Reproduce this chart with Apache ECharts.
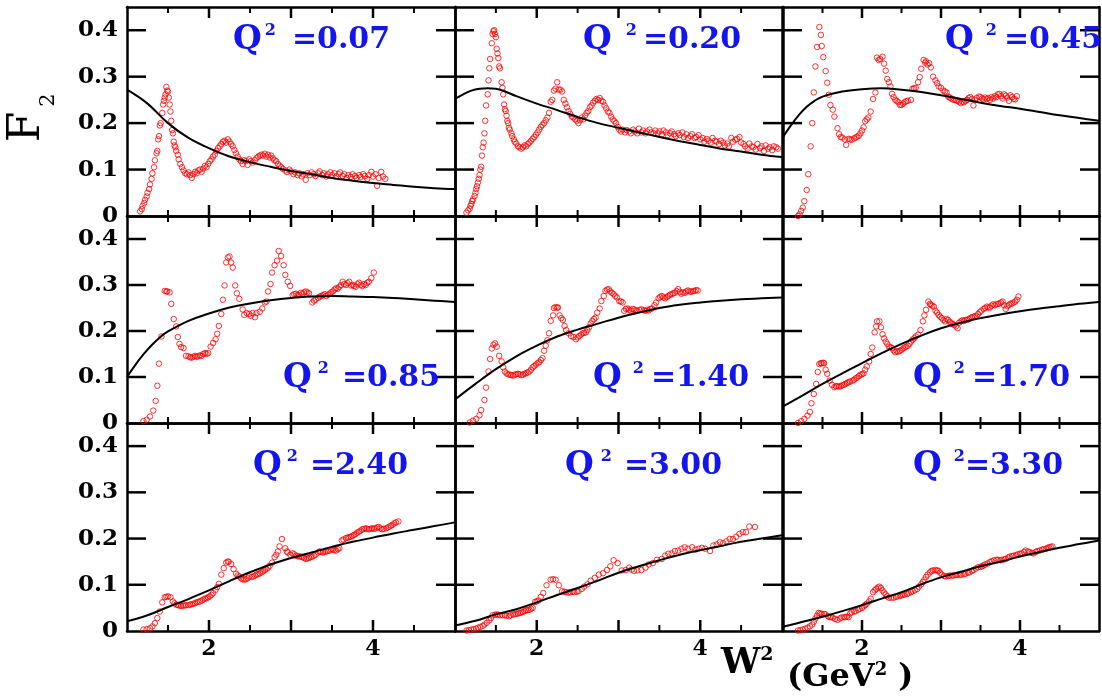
<!DOCTYPE html>
<html>
<head>
<meta charset="utf-8">
<script src="https://cdn.jsdelivr.net/npm/echarts@6/dist/echarts.min.js"></script>
<style>
  html, body { margin: 0; padding: 0; background: #ffffff; }
  #chart { width: 1102px; height: 697px; }
</style>
</head>
<body>
<div id="chart"></div>
<script>
// Q^2 value of each panel (GeV^2), row by row
const q2Values = ['0.07', '0.20', '0.45', '0.85', '1.40', '1.70', '2.40', '3.00', '3.30'];

// Tick labels and tick positions
const xTickLabels = ['2', '4'];
const yTickLabels = ['0', '0.1', '0.2', '0.3', '0.4'];
const xTickValues = [1.5, 2, 2.5, 3, 3.5, 4, 4.5];
const yTickValues = [0.1, 0.2, 0.3, 0.4];

// Measured F2 points [W^2, F2]
const meas007 = [
  [1.16,0.010],[1.18,0.015],[1.19,0.022],[1.21,0.028],[1.22,0.035],[1.24,0.042],[1.25,0.050],[1.27,0.058],
  [1.28,0.068],[1.30,0.080],[1.31,0.092],[1.33,0.105],[1.34,0.120],[1.36,0.135],[1.37,0.140],[1.38,0.165],
  [1.39,0.172],[1.40,0.195],[1.41,0.200],[1.43,0.222],[1.44,0.240],[1.45,0.248],[1.46,0.255],[1.47,0.262],
  [1.48,0.278],[1.49,0.270],[1.50,0.268],[1.51,0.255],[1.52,0.240],[1.53,0.225],[1.54,0.205],[1.55,0.185],
  [1.56,0.178],[1.57,0.160],[1.58,0.152],[1.59,0.148],[1.60,0.140],[1.62,0.132],[1.63,0.122],[1.65,0.112],
  [1.67,0.105],[1.69,0.098],[1.71,0.092],[1.73,0.090],[1.75,0.094],[1.77,0.088],[1.79,0.082],[1.81,0.090],
  [1.83,0.095],[1.85,0.092],[1.87,0.098],[1.89,0.100],[1.91,0.095],[1.93,0.102],[1.95,0.108],[1.97,0.105],
  [1.99,0.112],[2.01,0.118],[2.03,0.122],[2.05,0.128],[2.07,0.132],[2.09,0.140],[2.11,0.146],[2.13,0.150],
  [2.15,0.155],[2.17,0.160],[2.19,0.162],[2.21,0.158],[2.23,0.165],[2.25,0.160],[2.27,0.155],[2.29,0.150],
  [2.31,0.142],[2.33,0.135],[2.35,0.128],[2.37,0.122],[2.39,0.118],[2.41,0.112],[2.43,0.120],[2.45,0.118],
  [2.47,0.110],[2.49,0.122],[2.51,0.118],[2.53,0.115],[2.56,0.120],[2.58,0.125],[2.60,0.128],[2.62,0.130],
  [2.64,0.132],[2.66,0.130],[2.68,0.134],[2.70,0.128],[2.72,0.132],[2.74,0.126],[2.76,0.130],[2.78,0.124],
  [2.80,0.120],[2.82,0.118],[2.84,0.112],[2.86,0.108],[2.88,0.105],[2.90,0.102],[2.93,0.098],[2.95,0.095],
  [2.98,0.100],[3.00,0.096],[3.03,0.090],[3.05,0.094],[3.08,0.088],[3.10,0.092],[3.13,0.085],[3.15,0.090],
  [3.18,0.078],[3.20,0.092],[3.23,0.088],[3.25,0.094],[3.28,0.090],[3.30,0.086],[3.33,0.092],[3.35,0.096],
  [3.38,0.088],[3.40,0.092],[3.43,0.085],[3.45,0.090],[3.48,0.094],[3.50,0.088],[3.53,0.092],[3.55,0.085],
  [3.58,0.090],[3.60,0.094],[3.63,0.086],[3.65,0.090],[3.68,0.082],[3.70,0.088],[3.73,0.084],[3.75,0.090],
  [3.78,0.086],[3.80,0.082],[3.83,0.088],[3.85,0.084],[3.88,0.090],[3.90,0.086],[3.93,0.080],[3.95,0.088],
  [3.98,0.095],[4.00,0.085],[4.03,0.090],[4.05,0.065],[4.07,0.082],[4.10,0.095],[4.12,0.085],[4.15,0.080]
];
const meas020 = [
  [1.14,0.007],[1.16,0.012],[1.18,0.016],[1.19,0.022],[1.20,0.026],[1.21,0.032],[1.22,0.036],[1.24,0.043],
  [1.25,0.050],[1.26,0.058],[1.27,0.064],[1.28,0.072],[1.29,0.080],[1.30,0.088],[1.31,0.100],[1.32,0.106],
  [1.33,0.130],[1.34,0.148],[1.35,0.158],[1.36,0.178],[1.37,0.205],[1.38,0.238],[1.40,0.262],[1.41,0.292],
  [1.42,0.318],[1.43,0.338],[1.45,0.372],[1.46,0.392],[1.47,0.398],[1.48,0.400],[1.49,0.392],[1.50,0.385],
  [1.51,0.360],[1.52,0.350],[1.53,0.340],[1.54,0.322],[1.55,0.318],[1.57,0.288],[1.58,0.276],[1.59,0.262],
  [1.60,0.240],[1.61,0.230],[1.62,0.226],[1.63,0.216],[1.64,0.205],[1.65,0.200],[1.66,0.190],[1.67,0.186],
  [1.69,0.178],[1.70,0.172],[1.72,0.165],[1.73,0.160],[1.75,0.156],[1.77,0.150],[1.79,0.148],[1.81,0.145],
  [1.83,0.148],[1.85,0.152],[1.87,0.150],[1.89,0.155],[1.91,0.158],[1.93,0.162],[1.95,0.166],[1.97,0.170],
  [1.99,0.175],[2.01,0.180],[2.03,0.186],[2.05,0.192],[2.07,0.196],[2.09,0.200],[2.11,0.206],[2.13,0.212],
  [2.15,0.222],[2.17,0.246],[2.19,0.250],[2.21,0.270],[2.23,0.274],[2.25,0.288],[2.27,0.272],[2.29,0.272],
  [2.31,0.268],[2.33,0.250],[2.35,0.242],[2.37,0.234],[2.39,0.226],[2.41,0.220],[2.43,0.214],[2.45,0.212],
  [2.47,0.208],[2.49,0.205],[2.51,0.200],[2.53,0.206],[2.55,0.212],[2.57,0.208],[2.59,0.216],[2.61,0.222],
  [2.63,0.226],[2.65,0.234],[2.67,0.238],[2.69,0.244],[2.71,0.248],[2.73,0.252],[2.75,0.250],[2.77,0.254],
  [2.79,0.248],[2.81,0.246],[2.83,0.238],[2.85,0.232],[2.87,0.225],[2.89,0.222],[2.91,0.214],[2.93,0.208],
  [2.95,0.204],[2.97,0.200],[2.99,0.192],[3.01,0.186],[3.03,0.182],[3.05,0.186],[3.08,0.180],[3.10,0.185],
  [3.13,0.182],[3.15,0.178],[3.18,0.186],[3.20,0.182],[3.23,0.178],[3.25,0.188],[3.28,0.180],[3.30,0.184],
  [3.33,0.178],[3.35,0.182],[3.38,0.186],[3.40,0.180],[3.43,0.178],[3.45,0.184],[3.48,0.178],[3.50,0.182],
  [3.53,0.176],[3.55,0.184],[3.58,0.180],[3.60,0.174],[3.63,0.178],[3.65,0.182],[3.68,0.176],[3.70,0.172],
  [3.73,0.178],[3.75,0.174],[3.78,0.180],[3.80,0.170],[3.83,0.176],[3.85,0.168],[3.88,0.172],[3.90,0.176],
  [3.93,0.168],[3.95,0.170],[3.98,0.174],[4.00,0.165],[4.03,0.168],[4.05,0.160],[4.08,0.166],[4.10,0.162],
  [4.13,0.158],[4.15,0.168],[4.18,0.162],[4.20,0.160],[4.23,0.155],[4.25,0.162],[4.28,0.158],[4.30,0.152],
  [4.33,0.156],[4.35,0.150],[4.38,0.168],[4.40,0.160],[4.43,0.164],[4.45,0.166],[4.48,0.170],[4.50,0.158],
  [4.53,0.155],[4.55,0.150],[4.58,0.145],[4.60,0.156],[4.63,0.150],[4.65,0.148],[4.68,0.143],[4.70,0.155],
  [4.73,0.146],[4.75,0.150],[4.78,0.140],[4.80,0.152],[4.83,0.145],[4.85,0.148],[4.88,0.142],[4.90,0.150],
  [4.93,0.148],[4.95,0.145]
];
const meas045 = [
  [1.19,0.000],[1.21,0.004],[1.23,0.011],[1.25,0.018],[1.27,0.032],[1.30,0.056],[1.32,0.090],[1.35,0.150],
  [1.37,0.200],[1.39,0.266],[1.41,0.322],[1.43,0.364],[1.46,0.407],[1.48,0.390],[1.49,0.366],[1.51,0.342],
  [1.54,0.312],[1.56,0.287],[1.58,0.261],[1.60,0.239],[1.63,0.229],[1.65,0.214],[1.69,0.189],[1.71,0.176],
  [1.73,0.170],[1.75,0.169],[1.78,0.165],[1.80,0.153],[1.83,0.166],[1.85,0.165],[1.87,0.164],[1.90,0.167],
  [1.92,0.169],[1.94,0.171],[1.96,0.173],[1.98,0.178],[2.00,0.184],[2.02,0.191],[2.04,0.204],[2.06,0.208],
  [2.08,0.212],[2.11,0.225],[2.14,0.252],[2.17,0.266],[2.19,0.341],[2.21,0.336],[2.23,0.338],[2.26,0.343],
  [2.28,0.328],[2.30,0.313],[2.32,0.295],[2.34,0.288],[2.36,0.279],[2.38,0.263],[2.40,0.256],[2.42,0.250],
  [2.44,0.248],[2.46,0.245],[2.48,0.239],[2.50,0.239],[2.52,0.242],[2.54,0.245],[2.56,0.247],[2.58,0.248],
  [2.62,0.250],[2.64,0.274],[2.66,0.275],[2.68,0.276],[2.71,0.288],[2.73,0.299],[2.75,0.317],[2.78,0.336],
  [2.80,0.330],[2.81,0.333],[2.83,0.326],[2.85,0.329],[2.87,0.320],[2.90,0.300],[2.93,0.292],[2.95,0.286],
  [2.97,0.279],[3.00,0.276],[3.03,0.270],[3.05,0.268],[3.07,0.266],[3.09,0.257],[3.11,0.255],[3.13,0.253],
  [3.15,0.251],[3.17,0.250],[3.19,0.249],[3.21,0.248],[3.23,0.246],[3.25,0.243],[3.27,0.246],[3.29,0.245],
  [3.31,0.248],[3.33,0.250],[3.35,0.254],[3.37,0.256],[3.39,0.252],[3.41,0.238],[3.43,0.250],[3.45,0.254],
  [3.48,0.257],[3.50,0.256],[3.52,0.253],[3.54,0.251],[3.56,0.255],[3.58,0.252],[3.60,0.254],[3.62,0.250],
  [3.64,0.256],[3.66,0.253],[3.68,0.258],[3.70,0.256],[3.72,0.262],[3.74,0.263],[3.76,0.258],[3.78,0.253],
  [3.80,0.262],[3.82,0.259],[3.84,0.255],[3.86,0.248],[3.88,0.260],[3.90,0.256],[3.92,0.252],[3.94,0.251],
  [3.96,0.258]
];
const meas085 = [
  [1.20,0.004],[1.24,0.007],[1.28,0.014],[1.32,0.027],[1.35,0.048],[1.37,0.081],[1.39,0.129],[1.42,0.188],
  [1.46,0.287],[1.48,0.286],[1.49,0.286],[1.52,0.284],[1.54,0.259],[1.57,0.226],[1.60,0.210],[1.62,0.187],
  [1.64,0.172],[1.66,0.165],[1.69,0.163],[1.72,0.146],[1.75,0.145],[1.77,0.143],[1.79,0.142],[1.81,0.144],
  [1.83,0.146],[1.85,0.144],[1.87,0.145],[1.89,0.147],[1.91,0.146],[1.93,0.150],[1.95,0.152],[1.97,0.150],
  [1.99,0.152],[2.02,0.166],[2.05,0.174],[2.08,0.182],[2.10,0.194],[2.12,0.211],[2.15,0.237],[2.17,0.268],
  [2.19,0.299],[2.21,0.349],[2.23,0.360],[2.25,0.362],[2.27,0.349],[2.29,0.338],[2.32,0.299],[2.34,0.282],
  [2.37,0.270],[2.41,0.247],[2.43,0.235],[2.46,0.239],[2.49,0.237],[2.51,0.233],[2.53,0.239],[2.56,0.230],
  [2.58,0.239],[2.62,0.242],[2.65,0.249],[2.68,0.262],[2.70,0.264],[2.72,0.286],[2.75,0.302],[2.77,0.327],
  [2.80,0.343],[2.83,0.353],[2.85,0.374],[2.88,0.363],[2.91,0.343],[2.93,0.322],[2.96,0.307],[2.99,0.298],
  [3.02,0.278],[3.04,0.280],[3.06,0.281],[3.08,0.278],[3.10,0.278],[3.12,0.283],[3.14,0.281],[3.16,0.284],
  [3.18,0.286],[3.20,0.284],[3.22,0.282],[3.26,0.262],[3.28,0.266],[3.30,0.268],[3.33,0.272],[3.35,0.275],
  [3.37,0.276],[3.39,0.278],[3.41,0.280],[3.43,0.276],[3.45,0.279],[3.47,0.281],[3.49,0.284],[3.51,0.286],
  [3.53,0.290],[3.55,0.293],[3.57,0.292],[3.59,0.296],[3.61,0.300],[3.63,0.307],[3.65,0.302],[3.67,0.300],
  [3.69,0.304],[3.71,0.307],[3.73,0.299],[3.75,0.300],[3.77,0.298],[3.79,0.296],[3.81,0.302],[3.83,0.305],
  [3.85,0.300],[3.87,0.298],[3.89,0.302],[3.91,0.300],[3.93,0.305],[3.95,0.307],[3.98,0.315],[4.01,0.327]
];
const meas140 = [
  [1.18,0.001],[1.22,0.005],[1.26,0.009],[1.30,0.017],[1.32,0.028],[1.36,0.050],[1.38,0.077],[1.41,0.112],
  [1.43,0.139],[1.45,0.162],[1.47,0.170],[1.49,0.173],[1.51,0.166],[1.54,0.146],[1.57,0.134],[1.59,0.121],
  [1.61,0.112],[1.63,0.108],[1.65,0.106],[1.67,0.105],[1.69,0.104],[1.71,0.103],[1.73,0.105],[1.75,0.106],
  [1.77,0.107],[1.79,0.106],[1.81,0.104],[1.83,0.105],[1.85,0.107],[1.87,0.108],[1.89,0.110],[1.91,0.112],
  [1.93,0.116],[1.95,0.121],[1.97,0.124],[1.99,0.127],[2.01,0.130],[2.03,0.132],[2.05,0.137],[2.07,0.141],
  [2.09,0.157],[2.11,0.168],[2.13,0.180],[2.15,0.195],[2.17,0.222],[2.20,0.234],[2.21,0.250],[2.23,0.252],
  [2.25,0.251],[2.26,0.251],[2.28,0.234],[2.30,0.228],[2.32,0.224],[2.34,0.211],[2.36,0.202],[2.39,0.195],
  [2.42,0.189],[2.45,0.187],[2.48,0.182],[2.50,0.186],[2.52,0.189],[2.54,0.192],[2.56,0.195],[2.58,0.196],
  [2.60,0.197],[2.62,0.202],[2.64,0.208],[2.66,0.216],[2.68,0.222],[2.70,0.226],[2.72,0.229],[2.74,0.240],
  [2.77,0.249],[2.79,0.265],[2.82,0.276],[2.84,0.287],[2.86,0.290],[2.88,0.291],[2.90,0.286],[2.92,0.283],
  [2.94,0.280],[2.96,0.276],[2.98,0.273],[3.01,0.265],[3.03,0.264],[3.05,0.262],[3.07,0.244],[3.09,0.248],
  [3.11,0.249],[3.13,0.246],[3.15,0.244],[3.17,0.248],[3.19,0.247],[3.21,0.245],[3.23,0.244],[3.26,0.246],
  [3.28,0.247],[3.31,0.245],[3.33,0.244],[3.35,0.246],[3.37,0.245],[3.39,0.248],[3.41,0.249],[3.44,0.256],
  [3.46,0.262],[3.49,0.271],[3.51,0.274],[3.53,0.276],[3.55,0.273],[3.57,0.271],[3.59,0.274],[3.61,0.276],
  [3.63,0.279],[3.65,0.280],[3.67,0.282],[3.69,0.283],[3.71,0.287],[3.73,0.291],[3.75,0.285],[3.77,0.281],
  [3.79,0.284],[3.81,0.283],[3.83,0.286],[3.85,0.288],[3.87,0.286],[3.89,0.285],[3.91,0.287],[3.93,0.287],
  [3.95,0.289],[3.97,0.288]
];
const meas170 = [
  [1.19,0.000],[1.23,0.004],[1.27,0.009],[1.31,0.016],[1.34,0.024],[1.36,0.043],[1.39,0.063],[1.42,0.085],
  [1.44,0.111],[1.46,0.128],[1.48,0.130],[1.49,0.130],[1.51,0.131],[1.52,0.130],[1.54,0.116],[1.56,0.107],
  [1.59,0.092],[1.62,0.083],[1.65,0.078],[1.67,0.080],[1.69,0.080],[1.71,0.079],[1.73,0.080],[1.75,0.082],
  [1.77,0.083],[1.79,0.085],[1.81,0.087],[1.83,0.089],[1.85,0.090],[1.88,0.092],[1.90,0.094],[1.92,0.097],
  [1.94,0.099],[1.96,0.102],[1.98,0.105],[2.00,0.106],[2.02,0.108],[2.04,0.116],[2.06,0.123],[2.09,0.134],
  [2.11,0.150],[2.13,0.164],[2.16,0.197],[2.18,0.210],[2.19,0.221],[2.22,0.221],[2.24,0.208],[2.26,0.193],
  [2.28,0.184],[2.30,0.177],[2.32,0.172],[2.34,0.166],[2.36,0.165],[2.38,0.163],[2.40,0.158],[2.42,0.154],
  [2.44,0.156],[2.46,0.155],[2.48,0.157],[2.50,0.159],[2.52,0.162],[2.54,0.164],[2.56,0.166],[2.58,0.168],
  [2.60,0.172],[2.62,0.177],[2.64,0.181],[2.66,0.184],[2.68,0.188],[2.71,0.192],[2.74,0.202],[2.77,0.221],
  [2.79,0.234],[2.81,0.246],[2.84,0.264],[2.86,0.259],[2.87,0.257],[2.89,0.255],[2.91,0.253],[2.93,0.244],
  [2.95,0.240],[2.97,0.235],[2.99,0.231],[3.01,0.228],[3.03,0.224],[3.05,0.221],[3.07,0.226],[3.09,0.224],
  [3.11,0.220],[3.13,0.217],[3.15,0.215],[3.17,0.213],[3.19,0.210],[3.21,0.206],[3.23,0.218],[3.25,0.221],
  [3.27,0.223],[3.29,0.222],[3.31,0.224],[3.33,0.224],[3.35,0.226],[3.37,0.228],[3.39,0.230],[3.41,0.231],
  [3.43,0.232],[3.45,0.233],[3.47,0.237],[3.49,0.241],[3.51,0.244],[3.54,0.248],[3.56,0.250],[3.58,0.253],
  [3.60,0.251],[3.62,0.251],[3.64,0.255],[3.66,0.258],[3.68,0.256],[3.70,0.258],[3.72,0.259],[3.74,0.260],
  [3.76,0.262],[3.78,0.264],[3.80,0.256],[3.82,0.248],[3.84,0.254],[3.86,0.257],[3.88,0.259],[3.90,0.260],
  [3.92,0.262],[3.94,0.264],[3.96,0.268],[3.98,0.275]
];
const meas240 = [
  [1.20,0.003],[1.24,0.004],[1.28,0.006],[1.31,0.010],[1.34,0.017],[1.37,0.028],[1.40,0.042],[1.43,0.062],
  [1.46,0.073],[1.48,0.074],[1.50,0.075],[1.53,0.073],[1.56,0.064],[1.58,0.060],[1.60,0.057],[1.62,0.056],
  [1.64,0.055],[1.66,0.054],[1.68,0.055],[1.70,0.055],[1.72,0.056],[1.75,0.056],[1.77,0.057],[1.79,0.058],
  [1.81,0.059],[1.83,0.060],[1.85,0.062],[1.87,0.063],[1.89,0.064],[1.91,0.066],[1.93,0.068],[1.95,0.070],
  [1.97,0.071],[1.99,0.073],[2.01,0.075],[2.03,0.078],[2.05,0.082],[2.08,0.089],[2.10,0.095],[2.12,0.102],
  [2.15,0.122],[2.18,0.136],[2.21,0.148],[2.23,0.150],[2.24,0.150],[2.27,0.145],[2.30,0.134],[2.33,0.124],
  [2.35,0.120],[2.37,0.118],[2.39,0.114],[2.41,0.112],[2.43,0.111],[2.45,0.112],[2.47,0.114],[2.49,0.118],
  [2.52,0.117],[2.54,0.118],[2.56,0.120],[2.58,0.122],[2.60,0.123],[2.62,0.125],[2.64,0.127],[2.66,0.129],
  [2.68,0.132],[2.70,0.134],[2.72,0.137],[2.74,0.141],[2.77,0.148],[2.80,0.160],[2.82,0.165],[2.84,0.172],
  [2.86,0.183],[2.89,0.199],[2.93,0.179],[2.95,0.172],[2.96,0.170],[2.99,0.165],[3.02,0.168],[3.04,0.166],
  [3.06,0.163],[3.08,0.162],[3.10,0.161],[3.12,0.161],[3.14,0.160],[3.16,0.158],[3.18,0.156],[3.20,0.157],
  [3.22,0.158],[3.24,0.160],[3.26,0.161],[3.28,0.163],[3.30,0.165],[3.33,0.170],[3.35,0.172],[3.37,0.171],
  [3.39,0.170],[3.41,0.171],[3.43,0.172],[3.45,0.173],[3.47,0.174],[3.49,0.176],[3.51,0.177],[3.53,0.175],
  [3.55,0.174],[3.57,0.177],[3.59,0.179],[3.62,0.196],[3.64,0.198],[3.67,0.201],[3.69,0.202],[3.71,0.203],
  [3.73,0.204],[3.75,0.206],[3.77,0.208],[3.79,0.210],[3.81,0.213],[3.83,0.215],[3.85,0.217],[3.87,0.220],
  [3.89,0.221],[3.91,0.222],[3.93,0.221],[3.95,0.220],[3.97,0.221],[3.99,0.222],[4.01,0.221],[4.03,0.222],
  [4.05,0.224],[4.07,0.225],[4.09,0.222],[4.11,0.220],[4.13,0.221],[4.16,0.222],[4.18,0.224],[4.20,0.226],
  [4.22,0.228],[4.24,0.230],[4.26,0.233],[4.28,0.235],[4.31,0.237]
];
const meas300 = [
  [1.14,0.001],[1.17,0.002],[1.20,0.003],[1.23,0.004],[1.26,0.005],[1.28,0.007],[1.31,0.009],[1.34,0.011],
  [1.36,0.014],[1.39,0.018],[1.42,0.023],[1.44,0.028],[1.46,0.034],[1.49,0.035],[1.51,0.036],[1.53,0.035],
  [1.55,0.034],[1.58,0.034],[1.61,0.034],[1.63,0.033],[1.66,0.032],[1.68,0.034],[1.71,0.036],[1.73,0.036],
  [1.75,0.037],[1.77,0.038],[1.79,0.039],[1.81,0.040],[1.83,0.041],[1.85,0.043],[1.87,0.045],[1.89,0.045],
  [1.91,0.046],[1.93,0.048],[1.95,0.050],[1.98,0.063],[2.00,0.064],[2.02,0.066],[2.05,0.074],[2.08,0.082],
  [2.12,0.099],[2.17,0.111],[2.20,0.112],[2.23,0.111],[2.27,0.099],[2.31,0.086],[2.34,0.085],[2.36,0.084],
  [2.39,0.083],[2.41,0.084],[2.44,0.085],[2.46,0.084],[2.49,0.085],[2.51,0.086],[2.55,0.091],[2.58,0.096],
  [2.62,0.101],[2.66,0.109],[2.71,0.115],[2.76,0.122],[2.81,0.125],[2.86,0.132],[2.90,0.140],[2.94,0.153],
  [2.99,0.147],[3.04,0.131],[3.09,0.132],[3.13,0.137],[3.16,0.133],[3.19,0.130],[3.23,0.131],[3.28,0.132],
  [3.33,0.137],[3.37,0.144],[3.42,0.147],[3.47,0.154],[3.53,0.156],[3.57,0.163],[3.61,0.167],[3.65,0.168],
  [3.69,0.173],[3.73,0.174],[3.77,0.178],[3.81,0.181],[3.85,0.178],[3.90,0.181],[3.94,0.176],[3.98,0.178],
  [4.02,0.180],[4.06,0.178],[4.12,0.173],[4.16,0.185],[4.20,0.187],[4.24,0.192],[4.28,0.190],[4.32,0.194],
  [4.36,0.199],[4.40,0.199],[4.44,0.204],[4.48,0.210],[4.52,0.214],[4.56,0.214],[4.60,0.226],[4.67,0.225]
];
const meas330 = [
  [1.19,0.001],[1.22,0.002],[1.25,0.003],[1.28,0.005],[1.31,0.007],[1.34,0.010],[1.37,0.014],[1.39,0.020],
  [1.41,0.027],[1.43,0.033],[1.45,0.039],[1.47,0.038],[1.49,0.037],[1.52,0.037],[1.54,0.036],[1.57,0.032],
  [1.59,0.030],[1.61,0.030],[1.63,0.029],[1.66,0.026],[1.69,0.024],[1.72,0.027],[1.74,0.029],[1.77,0.030],
  [1.79,0.030],[1.81,0.031],[1.83,0.030],[1.85,0.038],[1.87,0.041],[1.90,0.042],[1.92,0.043],[1.95,0.046],
  [1.97,0.048],[2.00,0.050],[2.02,0.053],[2.04,0.056],[2.06,0.059],[2.09,0.064],[2.11,0.070],[2.14,0.084],
  [2.16,0.088],[2.18,0.091],[2.20,0.094],[2.22,0.096],[2.24,0.093],[2.26,0.088],[2.28,0.083],[2.30,0.079],
  [2.32,0.075],[2.34,0.072],[2.37,0.072],[2.40,0.072],[2.43,0.074],[2.45,0.075],[2.48,0.076],[2.50,0.077],
  [2.52,0.078],[2.54,0.079],[2.57,0.080],[2.59,0.082],[2.62,0.084],[2.64,0.086],[2.67,0.088],[2.70,0.091],
  [2.72,0.096],[2.75,0.101],[2.77,0.106],[2.79,0.111],[2.81,0.117],[2.83,0.122],[2.86,0.127],[2.88,0.130],
  [2.90,0.131],[2.93,0.132],[2.95,0.131],[2.97,0.130],[2.99,0.126],[3.01,0.122],[3.04,0.119],[3.06,0.118],
  [3.09,0.119],[3.11,0.120],[3.14,0.120],[3.16,0.120],[3.19,0.121],[3.21,0.122],[3.24,0.121],[3.26,0.122],
  [3.29,0.123],[3.31,0.124],[3.34,0.126],[3.36,0.127],[3.39,0.130],[3.41,0.132],[3.44,0.135],[3.47,0.138],
  [3.50,0.139],[3.52,0.140],[3.54,0.142],[3.56,0.144],[3.59,0.146],[3.62,0.149],[3.64,0.151],[3.67,0.153],
  [3.70,0.154],[3.72,0.154],[3.75,0.153],[3.77,0.154],[3.80,0.155],[3.82,0.156],[3.85,0.159],[3.87,0.161],
  [3.90,0.162],[3.92,0.163],[3.95,0.164],[3.97,0.166],[4.00,0.167],[4.02,0.168],[4.05,0.171],[4.07,0.174],
  [4.10,0.172],[4.12,0.171],[4.15,0.169],[4.17,0.168],[4.20,0.171],[4.22,0.173],[4.25,0.174],[4.28,0.176],
  [4.30,0.177],[4.33,0.178],[4.35,0.180],[4.37,0.181],[4.39,0.182],[4.41,0.183]
];

// Model curves [W^2, F2]
const fit007 = [[1.00,0.272],[1.25,0.242],[1.50,0.200],[1.75,0.168],[2.00,0.146],[2.25,0.128],[2.50,0.116],[2.75,0.106],[3.00,0.097],[3.25,0.090],[3.50,0.082],[3.75,0.076],[4.00,0.071],[4.25,0.067],[4.50,0.063],[4.75,0.060],[5.00,0.058]];
const fit020 = [[1.00,0.252],[1.10,0.262],[1.20,0.270],[1.30,0.274],[1.40,0.275],[1.50,0.274],[1.60,0.269],[1.75,0.258],[2.00,0.242],[2.25,0.228],[2.50,0.213],[2.75,0.200],[3.00,0.190],[3.25,0.180],[3.50,0.170],[3.75,0.161],[4.00,0.153],[4.25,0.145],[4.50,0.139],[4.75,0.132],[5.00,0.127]];
const fit045 = [[1.00,0.170],[1.10,0.195],[1.20,0.217],[1.30,0.235],[1.40,0.248],[1.50,0.257],[1.75,0.268],[2.00,0.273],[2.25,0.275],[2.50,0.272],[2.75,0.267],[3.00,0.260],[3.25,0.252],[3.50,0.244],[3.75,0.237],[4.00,0.231],[4.25,0.224],[4.50,0.217],[4.75,0.211],[5.00,0.205]];
const fit085 = [[1.00,0.100],[1.10,0.126],[1.20,0.149],[1.30,0.169],[1.40,0.186],[1.50,0.199],[1.75,0.222],[2.00,0.238],[2.25,0.251],[2.50,0.260],[2.75,0.267],[3.00,0.272],[3.25,0.275],[3.50,0.276],[3.75,0.275],[4.00,0.274],[4.25,0.272],[4.50,0.269],[4.75,0.266],[5.00,0.263]];
const fit140 = [[1.00,0.051],[1.25,0.085],[1.50,0.117],[1.75,0.145],[2.00,0.168],[2.25,0.188],[2.50,0.203],[2.75,0.216],[3.00,0.229],[3.25,0.240],[3.50,0.250],[3.75,0.257],[4.00,0.262],[4.25,0.266],[4.50,0.269],[4.75,0.271],[5.00,0.273]];
const fit170 = [[1.00,0.036],[1.25,0.060],[1.50,0.085],[1.75,0.108],[2.00,0.130],[2.25,0.152],[2.50,0.172],[2.75,0.190],[3.00,0.206],[3.25,0.218],[3.50,0.228],[3.75,0.236],[4.00,0.243],[4.25,0.249],[4.50,0.254],[4.75,0.259],[5.00,0.263]];
const fit240 = [[1.00,0.021],[1.25,0.034],[1.50,0.052],[1.75,0.069],[2.00,0.088],[2.25,0.108],[2.50,0.127],[2.75,0.144],[3.00,0.158],[3.25,0.170],[3.50,0.182],[3.75,0.193],[4.00,0.202],[4.25,0.211],[4.50,0.219],[4.75,0.227],[5.00,0.235]];
const fit300 = [[1.00,0.012],[1.25,0.022],[1.50,0.036],[1.75,0.047],[2.00,0.062],[2.25,0.078],[2.50,0.093],[2.75,0.109],[3.00,0.126],[3.25,0.140],[3.50,0.153],[3.75,0.165],[4.00,0.175],[4.25,0.184],[4.50,0.193],[4.75,0.200],[5.00,0.207]];
const fit330 = [[1.00,0.009],[1.25,0.020],[1.50,0.031],[1.75,0.043],[2.00,0.056],[2.25,0.070],[2.50,0.084],[2.75,0.101],[3.00,0.116],[3.25,0.128],[3.50,0.140],[3.75,0.150],[4.00,0.161],[4.25,0.171],[4.50,0.180],[4.75,0.188],[5.00,0.196]];

const measured = [meas007, meas020, meas045, meas085, meas140, meas170, meas240, meas300, meas330];
const fits = [fit007, fit020, fit045, fit085, fit140, fit170, fit240, fit300, fit330];

// ---- layout ----
const colLeft = [127, 455, 783];
const colWidth = [328, 327, 327];
const rowTop = [7, 216, 423];
const rowHeight = [209, 207, 208];

// Q^2 label placement: [left, top, gap before superscript, gap after superscript]
const labelPlace = [
  [233, 23, 3, 16], [583, 23, 14, 6], [945, 23, 12, 7],
  [283, 361, 6, 13], [593, 361, 11, 7], [913, 361, 12, 7],
  [253, 449, 5, 12], [565, 449, 7, 12], [913, 449, 12, 0]
];

const SERIF = '"DejaVu Serif", "Liberation Serif", serif';
const BLUE = '#1414ee';
const frameLine = { show: true, onZero: false, lineStyle: { color: '#000', width: 2.5 } };

// Inward tick marks on all four sides of a panel: kind 0 = bottom, 1 = top, 2 = left, 3 = right.
const tickMarks = [];
xTickValues.forEach(v => { tickMarks.push([v, 0]); tickMarks.push([v, 1]); });
yTickValues.forEach(v => { tickMarks.push([v, 2]); tickMarks.push([v, 3]); });

function renderTick(params, api) {
  const v = api.value(0), kind = api.value(1);
  const cs = params.coordSys;
  let x1, y1, x2, y2, w = 2.5;
  if (kind < 2) {
    const px = api.coord([v, 0])[0];
    const major = Math.abs(v - Math.round(v)) < 1e-6;
    const len = major ? 11 : 6;
    w = major ? 2.5 : 2;
    x1 = x2 = px;
    if (kind === 0) { y1 = cs.y + cs.height; y2 = y1 - len; }
    else { y1 = cs.y; y2 = y1 + len; }
  } else {
    const py = api.coord([1, v])[1];
    y1 = y2 = py;
    if (kind === 2) { x1 = cs.x; x2 = x1 + 19; }
    else { x1 = cs.x + cs.width; x2 = x1 - 19; }
  }
  return { type: 'line', shape: { x1: x1, y1: y1, x2: x2, y2: y2 }, style: { stroke: '#000', lineWidth: w } };
}

const grids = [], xAxes = [], yAxes = [], series = [], titles = [];

for (let i = 0; i < 9; i++) {
  const r = Math.floor(i / 3), c = i % 3;
  grids.push({ left: colLeft[c], top: rowTop[r], width: colWidth[c], height: rowHeight[r], containLabel: false });

  const xBase = {
    gridIndex: i, type: 'value', min: 1, max: 5, interval: 1,
    axisLine: frameLine,
    axisTick: { show: false }, minorTick: { show: false },
    splitLine: { show: false }, minorSplitLine: { show: false }
  };
  xAxes.push(Object.assign({}, xBase, {
    position: 'bottom',
    axisLabel: {
      show: true, margin: 7, color: '#000', fontFamily: SERIF, fontWeight: 'bold', fontSize: 22,
      formatter: v => (r === 2 && xTickLabels.indexOf(String(v)) >= 0 ? String(v) : '')
    }
  }));
  xAxes.push(Object.assign({}, xBase, { position: 'top', axisLabel: { show: false } }));

  const yBase = {
    gridIndex: i, type: 'value', min: 0, max: 0.45, interval: 0.1,
    axisLine: frameLine,
    axisTick: { show: false },
    splitLine: { show: false }
  };
  yAxes.push(Object.assign({}, yBase, {
    position: 'left',
    axisLabel: {
      show: true, margin: 9, color: '#000', fontFamily: SERIF, fontWeight: 'bold', fontSize: 23,
      formatter: v => {
        const k = Math.round(v * 10);
        return (c === 0 && Math.abs(v * 10 - k) < 1e-6 && k < yTickLabels.length) ? yTickLabels[k] : '';
      }
    }
  }));
  yAxes.push(Object.assign({}, yBase, { position: 'right', axisLabel: { show: false } }));

  series.push({
    type: 'custom', xAxisIndex: 2 * i, yAxisIndex: 2 * i, data: tickMarks,
    renderItem: renderTick, silent: true, z: 4
  });
  series.push({
    type: 'scatter', xAxisIndex: 2 * i, yAxisIndex: 2 * i, data: measured[i],
    symbol: 'circle', symbolSize: 5.5,
    itemStyle: { color: 'rgba(0,0,0,0)', borderColor: '#ff0000', borderWidth: 1 }
  });
  series.push({
    type: 'line', xAxisIndex: 2 * i, yAxisIndex: 2 * i, data: fits[i],
    smooth: 0.4, showSymbol: false,
    lineStyle: { color: '#000', width: 2 }
  });

  const p = labelPlace[i];
  titles.push({
    left: p[0], top: p[1], padding: 0,
    text: '{q|Q}{s|2}{v|=' + q2Values[i] + '}',
    textStyle: {
      rich: {
        q: { fontFamily: SERIF, fontWeight: 'bold', fontSize: 33, color: BLUE, lineHeight: 34 },
        s: { fontFamily: SERIF, fontWeight: 'bold', fontSize: 16, color: BLUE, verticalAlign: 'top', lineHeight: 16,
             padding: [0, p[3], 0, p[2]] },
        v: { fontFamily: SERIF, fontWeight: 'bold', fontSize: 30, color: BLUE, lineHeight: 34 }
      }
    }
  });
}

// x-axis title
titles.push({
  left: 721, top: 646, padding: 0,
  text: '{w|W}{s|2}',
  textStyle: { rich: {
    w: { fontFamily: SERIF, fontWeight: 'bold', fontSize: 35, color: '#000', lineHeight: 36 },
    s: { fontFamily: SERIF, fontWeight: 'bold', fontSize: 19, color: '#000', verticalAlign: 'top', lineHeight: 19 }
  } }
});
titles.push({
  left: 787, top: 661, padding: 0,
  text: '{a|(GeV}{s|2}{a| )}',
  textStyle: { rich: {
    a: { fontFamily: SERIF, fontWeight: 'bold', fontSize: 32, color: '#000', lineHeight: 33 },
    s: { fontFamily: SERIF, fontWeight: 'bold', fontSize: 18, color: '#000', verticalAlign: 'top', lineHeight: 18 }
  } }
});

// rotated y-axis title F_2 (reads bottom to top)
const yTitle = [
  { type: 'text', x: 28, y: 127, rotation: Math.PI / 2, z: 10,
    style: { text: 'F', fontFamily: SERIF, fontSize: 44, fill: '#000', align: 'center', verticalAlign: 'middle' } },
  { type: 'text', x: 49, y: 100, rotation: Math.PI / 2, z: 10,
    style: { text: '2', fontFamily: SERIF, fontSize: 21, fill: '#000', align: 'center', verticalAlign: 'middle' } }
];

const chart = echarts.init(document.getElementById('chart'), null, { renderer: 'canvas' });
chart.setOption({
  animation: false,
  backgroundColor: '#ffffff',
  title: titles,
  graphic: yTitle,
  grid: grids,
  xAxis: xAxes,
  yAxis: yAxes,
  series: series
});
</script>
</body>
</html>
